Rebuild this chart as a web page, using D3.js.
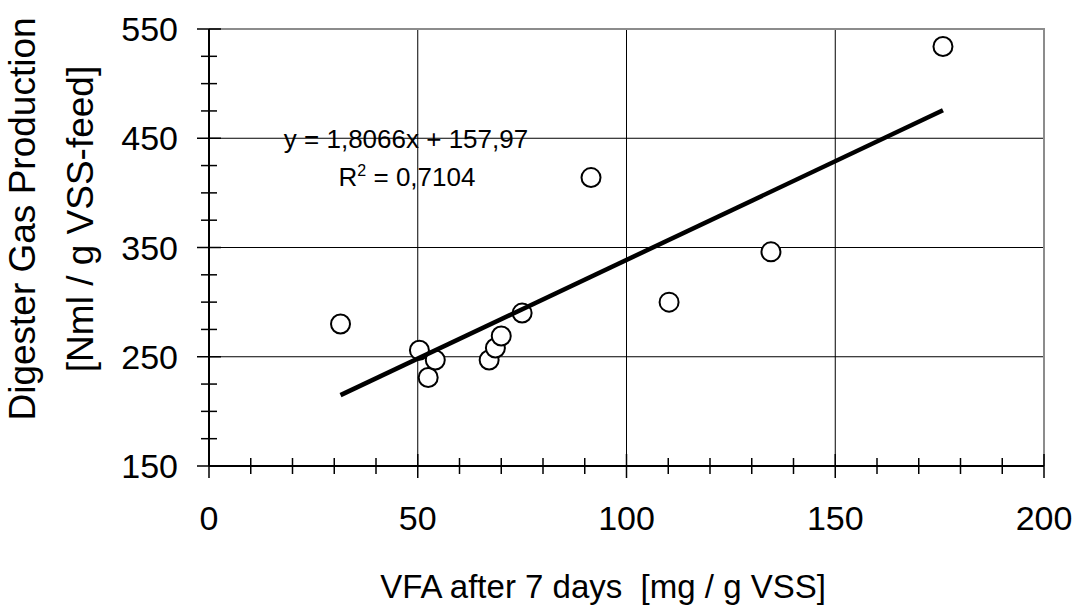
<!DOCTYPE html>
<html>
<head>
<meta charset="utf-8">
<script src="https://cdn.jsdelivr.net/npm/d3@7"></script>
<style>
  body { margin: 0; background: #fff; }
  svg text { font-family: "Liberation Sans", Arial, sans-serif; fill: #000; }
</style>
</head>
<body>
<svg id="graph"></svg>
<script>
// VFA after 7 days [mg / g VSS] vs digester gas production [Nml / g VSS-feed]
const vfa = [31.5, 50.4, 52.5, 54.2, 67.1, 68.6, 70.0, 75.0, 91.5, 110.2, 134.6, 175.8];
const gas = [280, 256, 231, 247, 247, 258, 269, 290, 414, 300, 346, 534];

// linear trendline shown on the chart
const slope = 1.8066,
    intercept = 157.97;
const eqLabel = "y = 1,8066x + 157,97";
const r2Label = "0,7104";

const xTicks = [0, 50, 100, 150, 200];
const yTicks = [150, 250, 350, 450, 550];

var svgWidth = 1079,
    svgHeight = 606,
    plot = { left: 209, right: 1044, top: 29, bottom: 466 };

const svg = d3.select("svg#graph")
    .attr("width", svgWidth)
    .attr("height", svgHeight);

const x = d3.scaleLinear().domain([0, 200]).range([plot.left, plot.right]);
const y = d3.scaleLinear().domain([150, 550]).range([plot.bottom, plot.top]);

// gridlines
svg.append("g")
    .selectAll("line")
    .data(xTicks.slice(1, -1))
    .enter()
    .append("line")
    .attr("x1", d => x(d)).attr("x2", d => x(d))
    .attr("y1", plot.top).attr("y2", plot.bottom)
    .attr("stroke", "#000").attr("stroke-width", 1);

svg.append("g")
    .selectAll("line")
    .data(yTicks.slice(1, -1))
    .enter()
    .append("line")
    .attr("x1", plot.left).attr("x2", plot.right)
    .attr("y1", d => y(d)).attr("y2", d => y(d))
    .attr("stroke", "#000").attr("stroke-width", 1);

// plot frame (top / right in grey)
svg.append("path")
    .attr("d", "M" + [plot.left, plot.top] + "H" + plot.right + "V" + plot.bottom)
    .attr("fill", "none")
    .attr("stroke", "#8c8c8c")
    .attr("stroke-width", 2);

// axes: major ticks cross the axis line, minor ticks are shorter
const minorX = d3.range(0, 201, 10).filter(d => d % 50 !== 0);
const minorY = d3.range(150, 551, 25).filter(d => (d - 150) % 100 !== 0);

const xAxis = svg.append("g").attr("transform", "translate(0," + plot.bottom + ")");
xAxis.append("line")
    .attr("x1", plot.left).attr("x2", plot.right)
    .attr("stroke", "#000").attr("stroke-width", 2);
xAxis.selectAll(".major")
    .data(xTicks).enter().append("line")
    .attr("x1", d => x(d)).attr("x2", d => x(d))
    .attr("y1", -12).attr("y2", 12)
    .attr("stroke", "#000").attr("stroke-width", 1.5);
xAxis.selectAll(".minor")
    .data(minorX).enter().append("line")
    .attr("x1", d => x(d)).attr("x2", d => x(d))
    .attr("y1", -8).attr("y2", 8)
    .attr("stroke", "#000").attr("stroke-width", 1.5);
xAxis.selectAll("text")
    .data(xTicks).enter().append("text")
    .attr("x", d => x(d))
    .attr("y", 64)
    .attr("text-anchor", "middle")
    .style("font-size", "34px")
    .text(d => d);

const yAxis = svg.append("g").attr("transform", "translate(" + plot.left + ",0)");
yAxis.append("line")
    .attr("y1", plot.top).attr("y2", plot.bottom)
    .attr("stroke", "#000").attr("stroke-width", 2);
yAxis.selectAll(".major")
    .data(yTicks).enter().append("line")
    .attr("y1", d => y(d)).attr("y2", d => y(d))
    .attr("x1", -12).attr("x2", 12)
    .attr("stroke", "#000").attr("stroke-width", 1.5);
yAxis.selectAll(".minor")
    .data(minorY).enter().append("line")
    .attr("y1", d => y(d)).attr("y2", d => y(d))
    .attr("x1", -8).attr("x2", 8)
    .attr("stroke", "#000").attr("stroke-width", 1.5);
yAxis.selectAll("text")
    .data(yTicks).enter().append("text")
    .attr("x", -31)
    .attr("y", d => y(d))
    .attr("dy", "0.36em")
    .attr("text-anchor", "end")
    .style("font-size", "34px")
    .text(d => d);

// axis titles
svg.append("text")
    .attr("x", 603)
    .attr("y", 598)
    .attr("text-anchor", "middle")
    .style("font-size", "33px")
    .text("VFA after 7 days\u00a0\u00a0[mg / g VSS]");

const yTitle = svg.append("text")
    .attr("transform", "translate(0,219) rotate(-90)")
    .attr("text-anchor", "middle")
    .style("font-size", "37px");
yTitle.append("tspan").attr("x", 0).attr("y", 35).text("Digester Gas Production");
yTitle.append("tspan").attr("x", 0).attr("y", 93).text("[Nml / g VSS-feed]");

// data points
svg.append("g")
    .selectAll("circle")
    .data(vfa.map((v, i) => [v, gas[i]]))
    .enter()
    .append("circle")
    .attr("cx", d => x(d[0]))
    .attr("cy", d => y(d[1]))
    .attr("r", 9.5)
    .attr("fill", "#fff")
    .attr("stroke", "#000")
    .attr("stroke-width", 2);

// trendline over the range of the data
const xMin = d3.min(vfa), xMax = d3.max(vfa);
svg.append("line")
    .attr("x1", x(xMin)).attr("y1", y(slope * xMin + intercept))
    .attr("x2", x(xMax)).attr("y2", y(slope * xMax + intercept))
    .attr("stroke", "#000")
    .attr("stroke-width", 4.5);

// equation label
svg.append("text")
    .attr("x", 406).attr("y", 148)
    .attr("text-anchor", "middle")
    .style("font-size", "26px")
    .text(eqLabel);
const r2 = svg.append("text")
    .attr("x", 407).attr("y", 186)
    .attr("text-anchor", "middle")
    .style("font-size", "26px");
r2.append("tspan").text("R");
r2.append("tspan").attr("dy", -10).style("font-size", "16px").text("2");
r2.append("tspan").attr("dy", 10).text(" = " + r2Label);
</script>
</body>
</html>
